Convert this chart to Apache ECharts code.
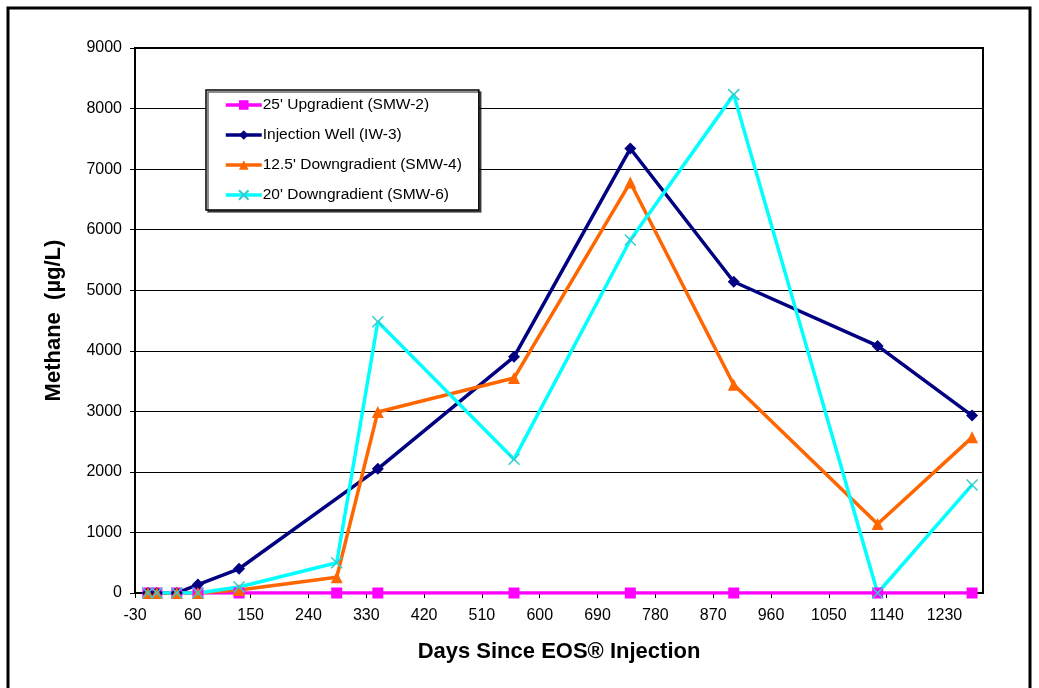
<!DOCTYPE html>
<html>
<head>
<meta charset="utf-8">
<script src="https://cdn.jsdelivr.net/npm/echarts@6/dist/echarts.min.js"></script>
<style>
  html, body { margin: 0; padding: 0; background: #fff; }
  #paint { width: 1039px; height: 688px; }
</style>
</head>
<body>
<div id="paint"></div>
<script>
// days since injection (shared sampling dates)
var days = [-10, 4, 35, 68, 132, 284, 348, 560, 741, 902, 1126, 1273];
var names = ["25' Upgradient (SMW-2)", "Injection Well (IW-3)", "12.5' Downgradient (SMW-4)", "20' Downgradient (SMW-6)"];
var smw2 = [0, 0, 0, 0, 0, 0, 0, 0, 0, 0, 0, 0];
var iw3 = [0, 0, 0, 140, 400, null, 2050, 3900, 7340, 5140, 4080, 2930];
var smw4 = [0, 0, 0, 0, 50, 260, 2990, 3550, 6780, 3440, 1140, 2570];
var smw6 = [0, 0, 0, 0, 100, 500, 4480, 2210, 5830, 8230, 0, 1785];
var xTicks = { min: -30, max: 1290, interval: 90 };
var yTicks = { min: 0, max: 9000, interval: 1000 };

function pairs(vals) {
    var out = [];
    for (var i = 0; i < days.length; i++) {
        if (vals[i] === null) continue;
        out.push([days[i], vals[i]]);
    }
    return out;
}

var chart = echarts.init(document.getElementById("paint"));
var font = "'Liberation Sans', Arial, sans-serif";
var cross = 'path://M0,0L10,10M10,0L0,10';

var option = {
    backgroundColor: '#fff',
    animation: false,
    textStyle: { fontFamily: font },
    graphic: [{
        type: 'rect',
        shape: { x: 8, y: 8, width: 1022, height: 690 },
        style: { fill: null, stroke: '#000', lineWidth: 3 },
        silent: true
    }],
    grid: {
        left: 135, top: 48, right: 56, bottom: 95,
        show: true, borderColor: '#000', borderWidth: 2,
        backgroundColor: '#fff'
    },
    legend: {
        orient: 'vertical',
        left: 206, top: 90,
        padding: [7, 17, 7, 18],
        itemGap: 14,
        itemWidth: 36, itemHeight: 12,
        borderColor: '#000', borderWidth: 1.5,
        backgroundColor: '#fff',
        shadowColor: 'rgba(0,0,0,0.6)', shadowOffsetX: 2, shadowOffsetY: 2,
        lineStyle: { width: 3.5 },
        textStyle: { fontFamily: font, fontSize: 15.5, color: '#000', padding: [0, 0, 0, -4] },
        data: names
    },
    xAxis: {
        type: 'value',
        min: xTicks.min, max: xTicks.max, interval: xTicks.interval,
        name: 'Days Since EOS\u00ae Injection',
        nameLocation: 'middle', nameGap: 48,
        nameTextStyle: { fontFamily: font, fontSize: 22, fontWeight: 'bold', color: '#000' },
        axisLine: { show: true, onZero: false, lineStyle: { color: '#000', width: 2 } },
        axisTick: { show: true, inside: false, length: 5, lineStyle: { color: '#000' } },
        axisLabel: { fontSize: 16, color: '#000', margin: 15, showMaxLabel: false,
            formatter: function (v) { return v === xTicks.max ? '' : String(v); } },
        splitLine: { show: false }
    },
    yAxis: {
        type: 'value',
        min: yTicks.min, max: yTicks.max, interval: yTicks.interval,
        name: 'Methane  (\u00b5g/L)',
        nameLocation: 'middle', nameGap: 70,
        nameTextStyle: { fontFamily: font, fontSize: 22, fontWeight: 'bold', color: '#000' },
        axisLine: { show: true, onZero: false, lineStyle: { color: '#000', width: 2 } },
        axisTick: { show: true, inside: false, length: 5, lineStyle: { color: '#000' } },
        axisLabel: { fontSize: 16, color: '#000', margin: 13,
            formatter: function (v) { return String(v); } },
        splitLine: { show: true, lineStyle: { color: '#000', width: 1 } }
    },
    series: [{
        name: names[0],
        type: 'line',
        data: pairs(smw2),
        symbol: 'rect', symbolSize: 11,
        itemStyle: { color: '#ff00ff' },
        lineStyle: { color: '#ff00ff', width: 3.5 }
    }, {
        name: names[1],
        type: 'line',
        data: pairs(iw3),
        connectNulls: true,
        symbol: 'diamond', symbolSize: 12,
        itemStyle: { color: '#000080' },
        lineStyle: { color: '#000080', width: 3.5 }
    }, {
        name: names[2],
        type: 'line',
        data: pairs(smw4),
        symbol: 'triangle', symbolSize: 12,
        itemStyle: { color: '#ff6600' },
        lineStyle: { color: '#ff6600', width: 3.5 }
    }, {
        name: names[3],
        type: 'line',
        data: pairs(smw6),
        symbol: cross, symbolSize: 11,
        itemStyle: { color: '#00ffff', borderColor: '#33cccc', borderWidth: 1.5 },
        lineStyle: { color: '#00ffff', width: 3.5 }
    }]
};

chart.setOption(option);
</script>
</body>
</html>
